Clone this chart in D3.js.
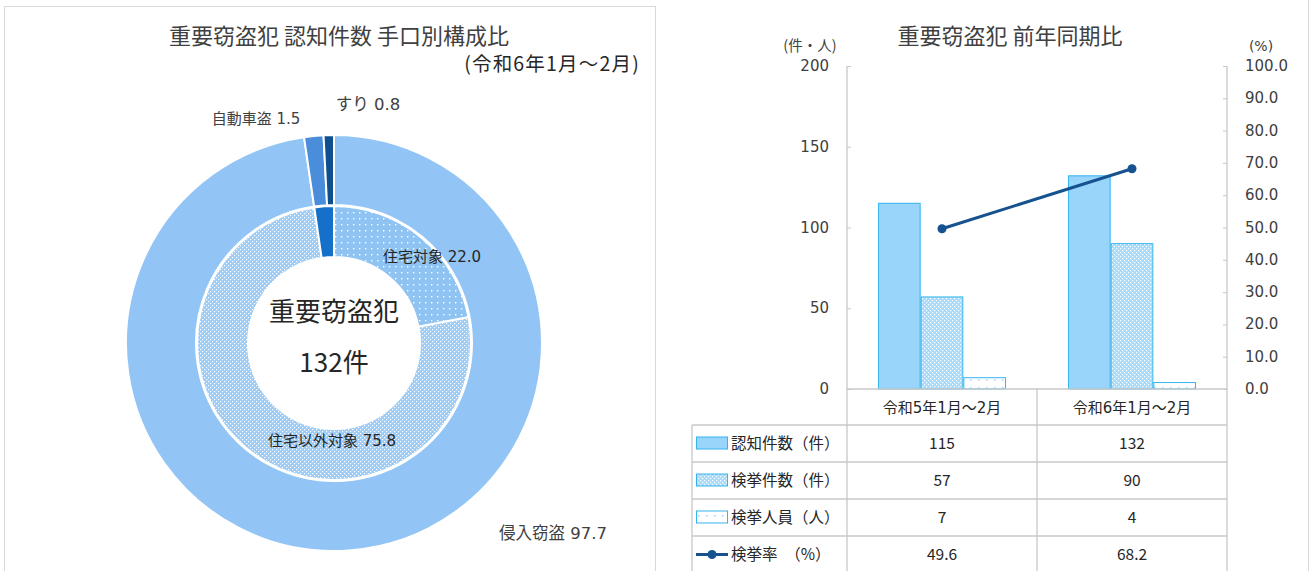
<!DOCTYPE html>
<html>
<head>
<meta charset="utf-8">
<script src="https://cdn.jsdelivr.net/npm/d3@7"></script>
<style>
body { margin: 0; background: #fff; }
svg { font-family: "Noto Sans CJK JP", "Noto Sans", sans-serif; display: block; }
</style>
</head>
<body>
<svg></svg>
<script>
const width = 1311;
const height = 571;

// left: donut
const outerLabels = ['侵入窃盗', '自動車盗', 'すり'];
const outerValues = [97.7, 1.5, 0.8];
const innerLabels = ['住宅対象', '住宅以外対象', ''];
const innerValues = [22.0, 75.8, 2.3];
const totalCount = 132;

// right: bars + line
const periods = ['令和5年1月～2月', '令和6年1月～2月'];
const seriesNames = ['認知件数（件）', '検挙件数（件）', '検挙人員（人）'];
const ninchi = [115, 132];
const kenkyo = [57, 90];
const jinin = [7, 4];
const rateName = '検挙率　（%）';
const rate = [49.6, 68.2];
const leftTicks = [0, 50, 100, 150, 200];
const rightTicks = [0, 10, 20, 30, 40, 50, 60, 70, 80, 90, 100];

const grey = '#404040';
const lineGrey = '#c8c8c8';
const wideFont = '"DejaVu Sans", "Noto Sans CJK JP", sans-serif';

const svg = d3.select('svg')
    .attr('width', width)
    .attr('height', height);

// patterns
const defs = svg.append('defs');

function dotPattern(id, size, bg, fg, dots, r) {
    const p = defs.append('pattern')
        .attr('id', id)
        .attr('patternUnits', 'userSpaceOnUse')
        .attr('width', size)
        .attr('height', size);
    p.append('rect').attr('width', size).attr('height', size).attr('fill', bg);
    dots.forEach(([x, y]) => {
        p.append('rect')
            .attr('x', x).attr('y', y)
            .attr('width', r).attr('height', r)
            .attr('fill', fg);
    });
}
dotPattern('donutDots', 6, '#8fc3f2', '#ffffff', [[1, 1]], 1.4);
dotPattern('donutLattice', 4, '#9ccbf4', '#ffffff', [[0, 0], [2, 2]], 1.2);
dotPattern('barLattice', 4, '#a9dbf9', '#ffffff', [[0, 0], [2, 2]], 1.2);
dotPattern('barDots', 8, '#ffffff', '#9fd4f7', [[2, 3]], 1.5);

// panel borders
svg.append('rect')
    .attr('x', 4.5).attr('y', 6.5)
    .attr('width', 651).attr('height', 580)
    .attr('fill', 'none')
    .attr('stroke', '#d9d9d9');
svg.append('line')
    .attr('x1', 1308.5).attr('x2', 1308.5)
    .attr('y1', 0).attr('y2', height)
    .attr('stroke', '#d9d9d9');

// ---------- donut ----------
svg.append('text')
    .attr('x', 339).attr('y', 44)
    .attr('text-anchor', 'middle')
    .attr('font-size', 22)
    .attr('fill', grey)
    .text('重要窃盗犯 認知件数 手口別構成比');
svg.append('text')
    .attr('x', 640).attr('y', 71)
    .attr('text-anchor', 'end')
    .attr('font-size', 19.5)
    .attr('letter-spacing', 1.2)
    .attr('fill', '#262626')
    .text('(令和6年1月～2月)');

const cx = 334;
const cy = 343;
const pie = d3.pie().sort(null).value(d => d);

const outerArc = d3.arc().innerRadius(138).outerRadius(208);
const innerArc = d3.arc().innerRadius(86).outerRadius(137);

const outerColors = ['#92c5f5', '#4a8ddb', '#0f4f8f'];
const innerFills = ['url(#donutDots)', 'url(#donutLattice)', '#1470c8'];

const donut = svg.append('g')
    .attr('transform', `translate(${cx}, ${cy})`);

donut.selectAll('.outer')
    .data(pie(outerValues))
    .enter()
    .append('path')
        .classed('outer', true)
        .attr('d', outerArc)
        .attr('fill', (_, i) => outerColors[i])
        .attr('stroke', '#fff')
        .attr('stroke-width', 2);

donut.selectAll('.inner')
    .data(pie(innerValues))
    .enter()
    .append('path')
        .classed('inner', true)
        .attr('d', innerArc)
        .attr('fill', (_, i) => innerFills[i])
        .attr('stroke', '#fff')
        .attr('stroke-width', 2);

// data labels (Excel-like placement)
const outerLabelPos = [[219, 196, 16.5], [-78, -219, 15], [34, -233, 16.5]];
outerLabels.forEach((name, i) => {
    const [dx, dy, fs] = outerLabelPos[i];
    donut.append('text')
        .attr('x', dx).attr('y', dy)
        .attr('text-anchor', 'middle')
        .attr('font-family', wideFont)
        .attr('font-size', fs)
        .attr('fill', grey)
        .text(`${name} ${outerValues[i].toFixed(1)}`);
});
const innerLabelPos = [[98, -81], [-2, 103]];
innerLabels.slice(0, 2).forEach((name, i) => {
    const [dx, dy] = innerLabelPos[i];
    donut.append('text')
        .attr('x', dx).attr('y', dy)
        .attr('text-anchor', 'middle')
        .attr('font-family', wideFont)
        .attr('font-size', 15)
        .attr('fill', '#262626')
        .text(`${name} ${innerValues[i].toFixed(1)}`);
});

donut.append('text')
    .attr('y', -22)
    .attr('text-anchor', 'middle')
    .attr('font-size', 26)
    .attr('fill', '#262626')
    .text('重要窃盗犯');
donut.append('text')
    .attr('y', 29)
    .attr('text-anchor', 'middle')
    .attr('font-size', 26)
    .attr('fill', '#262626')
    .text(`${totalCount}件`);

// ---------- bars ----------
svg.append('text')
    .attr('x', 1010).attr('y', 44)
    .attr('text-anchor', 'middle')
    .attr('font-size', 22)
    .attr('fill', grey)
    .text('重要窃盗犯 前年同期比');

const plotLeft = 847;
const plotRight = 1227;
const plotTop = 66;
const plotBottom = 389;

const x0 = d3.scaleBand()
    .domain(periods)
    .range([plotLeft, plotRight])
    .paddingInner(0.326)
    .paddingOuter(0.163);
const x1 = d3.scaleBand()
    .domain(d3.range(seriesNames.length))
    .range([0, x0.bandwidth()]);
const y = d3.scaleLinear().domain([0, 200]).range([plotBottom, plotTop]);
const yr = d3.scaleLinear().domain([0, 100]).range([plotBottom, plotTop]);

const leftAxis = svg.append('g')
    .attr('transform', `translate(${plotLeft}, 0)`)
    .call(d3.axisRight(y).tickValues(leftTicks).tickSize(4).tickFormat(''));
const rightAxis = svg.append('g')
    .attr('transform', `translate(${plotRight}, 0)`)
    .call(d3.axisLeft(yr).tickValues(rightTicks).tickSize(4).tickFormat(''));
[leftAxis, rightAxis].forEach(a => {
    a.select('.domain').remove();
    a.selectAll('line').attr('stroke', lineGrey);
});

svg.selectAll('.ltick')
    .data(leftTicks)
    .enter()
    .append('text')
        .classed('ltick', true)
        .attr('x', 829)
        .attr('y', d => y(d) + 5)
        .attr('text-anchor', 'end')
        .attr('font-family', wideFont)
        .attr('font-size', 15)
        .attr('fill', grey)
        .text(d => d);
svg.selectAll('.rtick')
    .data(rightTicks)
    .enter()
    .append('text')
        .classed('rtick', true)
        .attr('x', 1245)
        .attr('y', d => yr(d) + 5)
        .attr('font-family', wideFont)
        .attr('font-size', 15)
        .attr('fill', grey)
        .text(d => d.toFixed(1));

svg.append('text')
    .attr('x', 810).attr('y', 51)
    .attr('text-anchor', 'middle')
    .attr('font-size', 14.5)
    .attr('fill', grey)
    .text('(件・人)');
svg.append('text')
    .attr('x', 1261).attr('y', 51)
    .attr('text-anchor', 'middle')
    .attr('font-family', wideFont)
    .attr('font-size', 14)
    .attr('fill', grey)
    .text('(%)');

const seriesValues = [ninchi, kenkyo, jinin];
const barFills = ['#99d4fb', 'url(#barLattice)', 'url(#barDots)'];
const barStroke = '#34b4ee';

const barRows = [];
periods.forEach((p, pi) => {
    seriesValues.forEach((vals, si) => barRows.push({ period: p, series: si, value: vals[pi] }));
});

svg.append('g')
    .selectAll('rect')
    .data(barRows)
    .enter()
    .append('rect')
        .attr('x', d => x0(d.period) + x1(d.series) + 0.5)
        .attr('y', d => y(d.value))
        .attr('width', x1.bandwidth() - 1)
        .attr('height', d => plotBottom - y(d.value))
        .attr('fill', d => barFills[d.series])
        .attr('stroke', barStroke)
        .attr('stroke-width', 1);

// axis lines / table grid
const tableLeft = 692;
const rowLines = [425, 462, 499, 536];
const grid = svg.append('g')
    .attr('stroke', lineGrey)
    .attr('stroke-width', 1.3);
grid.append('line')
    .attr('x1', plotLeft).attr('x2', plotRight)
    .attr('y1', plotBottom).attr('y2', plotBottom);
grid.append('line')
    .attr('x1', plotLeft).attr('x2', plotLeft)
    .attr('y1', plotTop).attr('y2', height);
grid.append('line')
    .attr('x1', plotRight).attr('x2', plotRight)
    .attr('y1', plotTop).attr('y2', height);
grid.append('line')
    .attr('x1', x0(periods[1]) - x0.step() * 0.163).attr('x2', x0(periods[1]) - x0.step() * 0.163)
    .attr('y1', plotBottom).attr('y2', height);
grid.append('line')
    .attr('x1', tableLeft).attr('x2', tableLeft)
    .attr('y1', rowLines[0]).attr('y2', height);
grid.selectAll('.row')
    .data(rowLines)
    .enter()
    .append('line')
        .attr('x1', tableLeft).attr('x2', plotRight)
        .attr('y1', d => d).attr('y2', d => d);

// rate line
const lineGen = d3.line()
    .x((_, i) => x0(periods[i]) + x0.bandwidth() / 2)
    .y(d => yr(d));
svg.append('path')
    .datum(rate)
    .attr('d', lineGen)
    .attr('fill', 'none')
    .attr('stroke', '#15528f')
    .attr('stroke-width', 3);
svg.selectAll('.pt')
    .data(rate)
    .enter()
    .append('circle')
        .classed('pt', true)
        .attr('cx', (_, i) => x0(periods[i]) + x0.bandwidth() / 2)
        .attr('cy', d => yr(d))
        .attr('r', 4.5)
        .attr('fill', '#15528f');

// table text
const colCenter = p => x0(p) + x0.bandwidth() / 2;
svg.selectAll('.cat')
    .data(periods)
    .enter()
    .append('text')
        .attr('x', colCenter)
        .attr('y', 413)
        .attr('text-anchor', 'middle')
        .attr('font-family', wideFont)
        .attr('font-size', 15)
        .attr('fill', '#262626')
        .text(d => d);

const tableRows = seriesNames.map((name, i) => ({ name, values: seriesValues[i], kind: i }))
    .concat([{ name: rateName, values: rate, kind: 3 }]);

tableRows.forEach((row, ri) => {
    const top = rowLines[ri];
    const mid = top + 18.5;
    if (row.kind < 3) {
        svg.append('rect')
            .attr('x', 696.5).attr('y', mid - 6.5)
            .attr('width', 31).attr('height', 12)
            .attr('fill', barFills[row.kind])
            .attr('stroke', barStroke);
    } else {
        svg.append('line')
            .attr('x1', 696).attr('x2', 728)
            .attr('y1', mid).attr('y2', mid)
            .attr('stroke', '#15528f')
            .attr('stroke-width', 3);
        svg.append('circle')
            .attr('cx', 712).attr('cy', mid)
            .attr('r', 4.5)
            .attr('fill', '#15528f');
    }
    svg.append('text')
        .attr('x', 731).attr('y', mid + 5.5)
        .attr('font-size', 15.5)
        .attr('fill', '#262626')
        .text(row.name);
    periods.forEach((p, pi) => {
        svg.append('text')
            .attr('x', colCenter(p)).attr('y', mid + 5.5)
            .attr('text-anchor', 'middle')
            .attr('font-size', 15.5)
            .attr('fill', '#262626')
            .text(row.kind === 3 ? row.values[pi].toFixed(1) : row.values[pi]);
    });
});
</script>
</body>
</html>
